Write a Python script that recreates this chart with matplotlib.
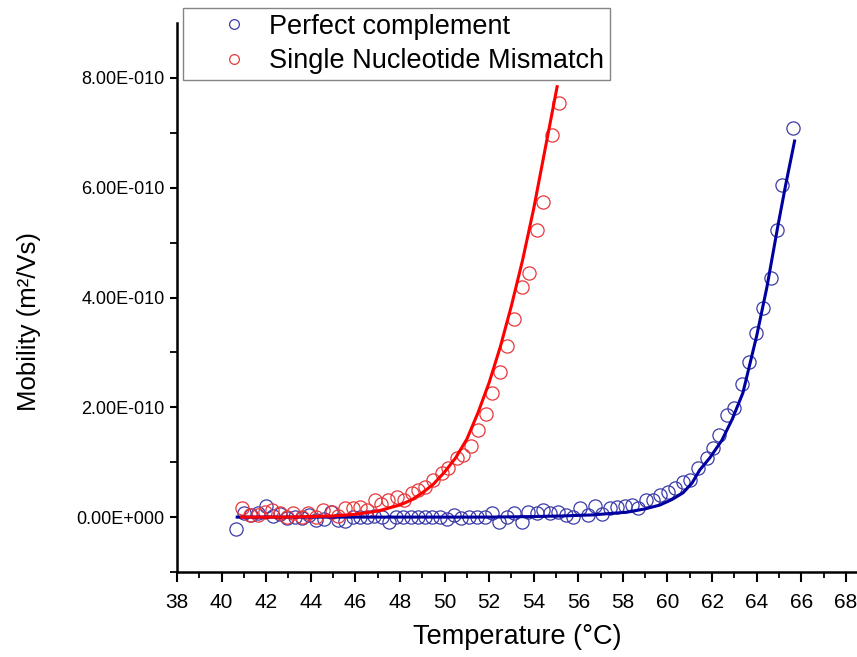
import numpy as np
import matplotlib
matplotlib.use("Agg")
import matplotlib.pyplot as plt
from matplotlib.ticker import MultipleLocator, FuncFormatter
from matplotlib.lines import Line2D

plt.rcParams['font.family'] = ['Liberation Sans', 'DejaVu Sans']

SCALE = 1e-10  # mobility values below are in units of 1e-10 m^2/Vs

# ---- Perfect complement (blue) measured points ----
blue_temp = [40.65, 41.00, 41.32, 41.65, 41.98, 42.30, 42.63, 42.95, 43.28, 43.60,
             43.93, 44.25, 44.58, 44.90, 45.23, 45.55, 45.88, 46.20, 46.53, 46.85,
             47.18, 47.50, 47.83, 48.15, 48.48, 48.80, 49.13, 49.45, 49.78, 50.10,
             50.43, 50.75, 51.08, 51.45, 51.82, 52.13, 52.44, 52.80, 53.11, 53.47,
             53.74, 54.14, 54.41, 54.73, 55.08, 55.44, 55.75, 56.07, 56.43, 56.74,
             57.06, 57.42, 57.73, 58.09, 58.40, 58.67, 59.03, 59.35, 59.66, 60.02,
             60.33, 60.69, 61.00, 61.36, 61.77, 62.04, 62.30, 62.66, 62.98, 63.34,
             63.65, 63.96, 64.28, 64.64, 64.90, 65.13, 65.62]
blue_mob = [-0.21, 0.07, 0.04, 0.08, 0.20, 0.02, 0.05, -0.02, 0.00, -0.02,
            0.04, -0.05, -0.04, 0.09, -0.05, -0.08, 0.00, 0.00, 0.00, 0.02,
            0.00, -0.09, 0.00, 0.00, 0.00, 0.00, 0.00, 0.00, 0.00, -0.04,
            0.04, -0.02, 0.00, 0.00, 0.00, 0.07, -0.09, 0.00, 0.07, -0.09,
            0.09, 0.07, 0.13, 0.07, 0.09, 0.04, 0.00, 0.16, 0.04, 0.20,
            0.05, 0.16, 0.18, 0.20, 0.22, 0.16, 0.31, 0.31, 0.40, 0.46,
            0.53, 0.64, 0.67, 0.89, 1.07, 1.26, 1.49, 1.86, 1.99, 2.42,
            2.82, 3.35, 3.81, 4.35, 5.23, 6.05, 7.09]

# ---- Perfect complement fit curve ----
blue_fit_temp = [40.7, 44.0, 48.0, 52.0, 54.0, 55.2, 56.65, 58.18, 59.0, 59.66,
                 60.2, 60.69, 61.1, 61.45, 61.9, 62.44, 62.9, 63.38, 64.0, 64.46,
                 64.95, 65.3, 65.7]
blue_fit_mob = [0.0, 0.0, 0.0, 0.0, 0.01, 0.02, 0.04, 0.09, 0.15, 0.22,
                0.32, 0.44, 0.62, 0.86, 1.08, 1.40, 1.78, 2.26, 3.30, 4.19,
                5.30, 6.05, 6.85]

# ---- Single nucleotide mismatch (red) measured points ----
red_temp = [40.91, 41.27, 41.63, 41.95, 42.26, 42.62, 42.93, 43.20, 43.61, 43.87,
            44.23, 44.55, 44.95, 45.22, 45.53, 45.89, 46.21, 46.52, 46.88, 47.15,
            47.46, 47.87, 48.18, 48.54, 48.81, 49.12, 49.48, 49.88, 50.15, 50.56,
            50.83, 51.18, 51.50, 51.86, 52.13, 52.48, 52.80, 53.11, 53.47, 53.79,
            54.14, 54.41, 54.82, 55.13]
red_mob = [0.16, 0.04, 0.04, 0.09, 0.13, 0.07, 0.00, 0.07, 0.00, 0.07,
           0.00, 0.13, 0.09, 0.02, 0.16, 0.16, 0.18, 0.13, 0.31, 0.24,
           0.31, 0.36, 0.31, 0.44, 0.49, 0.55, 0.67, 0.80, 0.89, 1.07,
           1.13, 1.29, 1.58, 1.88, 2.26, 2.64, 3.11, 3.61, 4.19, 4.44,
           5.23, 5.74, 6.96, 7.54]

# ---- Single nucleotide mismatch fit curve ----
red_fit_temp = [40.9, 42.0, 43.0, 44.0, 45.0, 46.0, 47.0, 48.0, 48.5, 49.0,
                49.5, 50.0, 50.5, 51.0, 51.5, 52.0, 52.5, 53.0, 53.5, 54.0,
                54.5, 55.05]
red_fit_mob = [0.0, 0.0, 0.0, 0.01, 0.02, 0.05, 0.11, 0.22, 0.31, 0.44,
               0.60, 0.82, 1.08, 1.42, 1.90, 2.45, 3.10, 3.85, 4.68, 5.62,
               6.68, 7.84]

x_ticks = list(range(38, 69, 2))
y_ticks = [0.0, 2.0, 4.0, 6.0, 8.0]
legend_labels = ["Perfect complement", "Single Nucleotide Mismatch"]

blue_pt = '#3b3ba8'
red_pt = '#e8383c'
blue_ln = '#0000a0'
red_ln = '#ff0000'

W, H = 857, 657
fig = plt.figure(figsize=(W / 100, H / 100), dpi=100)
ax = fig.add_axes([177 / W, (H - 572) / H, 680 / W, 549 / H])

ax.plot(blue_temp, np.array(blue_mob) * SCALE, 'o', mfc='none', mec=blue_pt,
        ms=9.5, mew=0.9, zorder=3)
ax.plot(blue_fit_temp, np.array(blue_fit_mob) * SCALE, '-', color=blue_ln,
        lw=2.2, zorder=4)
ax.plot(red_temp, np.array(red_mob) * SCALE, 'o', mfc='none', mec=red_pt,
        ms=9.5, mew=0.9, zorder=3)
ax.plot(red_fit_temp, np.array(red_fit_mob) * SCALE, '-', color=red_ln,
        lw=2.2, zorder=5)

ax.set_xlim(38, 68.5)
ax.set_ylim(-1.0e-10, 9.0e-10)
ax.set_xticks(x_ticks)
ax.xaxis.set_minor_locator(MultipleLocator(1))
ax.set_yticks([v * SCALE for v in y_ticks])
ax.set_yticks([v * SCALE for v in [-1.0, 1.0, 3.0, 5.0, 7.0]], minor=True)


def sci(v, pos):
    if abs(v) < 1e-20:
        return "0.00E+000"
    e = int(np.floor(np.log10(abs(v))))
    m = v / 10 ** e
    sign = '+' if e >= 0 else '-'
    return f"{m:.2f}E{sign}{abs(e):03d}"


ax.yaxis.set_major_formatter(FuncFormatter(sci))

for s in ['top', 'right']:
    ax.spines[s].set_visible(False)
for s in ['left', 'bottom']:
    ax.spines[s].set_linewidth(1.8)
    ax.spines[s].set_color('black')

ax.tick_params(axis='x', which='major', direction='out', length=7, width=1.5,
               labelsize=15, pad=8)
ax.tick_params(axis='x', which='minor', direction='out', length=4, width=1.3)
ax.tick_params(axis='y', which='major', direction='out', length=5, width=1.5,
               labelsize=13, pad=4)
ax.tick_params(axis='y', which='minor', direction='out', length=5, width=1.3)

ax.set_xlabel("Temperature (°C)", fontsize=19.5)
ax.xaxis.set_label_coords(0.5, -0.095)
ax.xaxis.label.set_va('top')
ax.set_ylabel("Mobility (m²/Vs)", fontsize=18.5)
ax.yaxis.set_label_coords(-0.2, 0.457)

handles = [
    Line2D([], [], ls='none', marker='o', mfc='none', mec=blue_pt, ms=7, mew=0.9),
    Line2D([], [], ls='none', marker='o', mfc='none', mec=red_pt, ms=7, mew=0.9),
]
leg = fig.legend(handles, legend_labels, loc='upper left',
                 bbox_to_anchor=(183 / W, 1 - 8 / H), bbox_transform=fig.transFigure,
                 fontsize=19.5, frameon=True, fancybox=False, borderaxespad=0,
                 handlelength=3.3, handletextpad=-0.35, borderpad=0.22,
                 labelspacing=0.3)
leg.get_frame().set_edgecolor('#666666')
leg.get_frame().set_linewidth(1.0)

fig.savefig('out.png', dpi=100, facecolor='white')
